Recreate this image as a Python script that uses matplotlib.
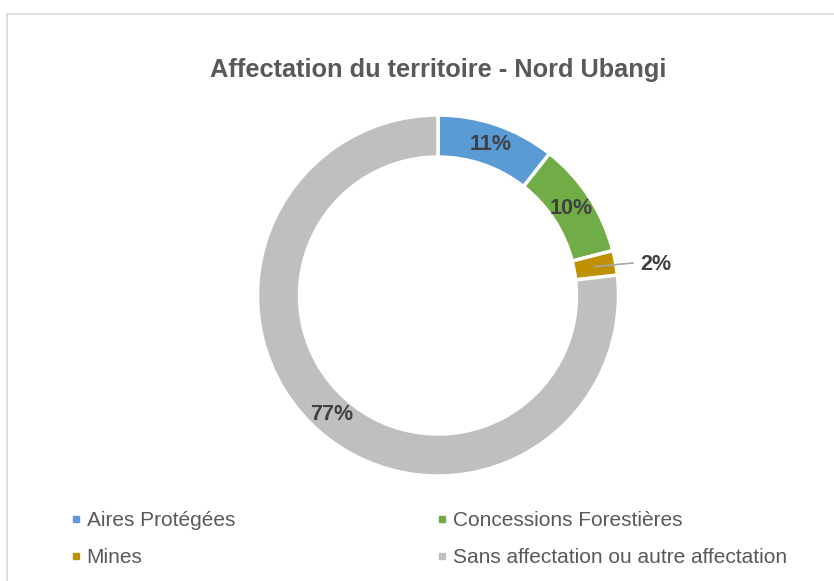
import matplotlib
matplotlib.use("Agg")
import matplotlib.pyplot as plt
from matplotlib.lines import Line2D
from matplotlib.patches import Rectangle
import numpy as np

W, H = 834, 581
DPI = 100

title = "Affectation du territoire - Nord Ubangi"
categories = ["Aires Protégées", "Concessions Forestières", "Mines",
              "Sans affectation ou autre affectation"]
shares = [10.6, 10.4, 2.2, 76.8]
colors = ["#5B9BD5", "#70AD47", "#BF9000", "#BFBFBF"]

plt.rcParams["font.family"] = ["Liberation Sans", "DejaVu Sans"]

fig = plt.figure(figsize=(W / DPI, H / DPI), dpi=DPI)
fig.patch.set_facecolor("white")

# light frame of the chart area (cut off at right/bottom)
fig.patches.append(Rectangle((7 / W, -0.1), 1.2, 1.1 - 14 / H,
                             transform=fig.transFigure, fill=False,
                             edgecolor="#D9D9D9", linewidth=1.2))

# axes in pixel units
ax = fig.add_axes([0, 0, 1, 1])

cx, cy = 438, H - 295.5
R = 180.5
ring = 42

wedges, _, autotexts = ax.pie(
    shares, colors=colors, startangle=90, counterclock=False,
    center=(cx, cy), radius=R, autopct="%1.0f%%", pctdistance=1 - ring / 2 / R,
    wedgeprops=dict(width=ring, edgecolor="white", linewidth=2.5),
    textprops=dict(fontsize=15.5, fontweight="bold", color="#404040"),
    frame=True,
)
ax.set_xlim(0, W)
ax.set_ylim(0, H)
ax.set_aspect("auto")
ax.set_axis_off()

# "2%" label sits outside the ring with a leader line
w = wedges[2]
mid = np.deg2rad((w.theta1 + w.theta2) / 2)
rm = R - ring / 2
p0 = (cx + rm * np.cos(mid), cy + rm * np.sin(mid))
autotexts[2].set_position((656, H - 265))
ax.plot([p0[0], 633], [p0[1], H - 263], color="#A6A6A6", linewidth=1.2)

fig.text(cx / W, 1 - 70 / H, title, ha="center", va="center",
         fontsize=18.3, fontweight="bold", color="#595959")

handles = [Line2D([], [], marker="s", linestyle="none", markersize=5,
                  color=c) for c in colors]
order = [0, 2, 1, 3]
fig.legend([handles[i] for i in order], [categories[i] for i in order],
           loc="upper left", bbox_to_anchor=(61 / W, 1 - 501 / H), ncol=2,
           frameon=False, fontsize=15, handlelength=0.4, handletextpad=0.33,
           columnspacing=9.75, labelspacing=0.85, borderpad=0,
           labelcolor="#595959")

fig.savefig("out.png", dpi=DPI)
